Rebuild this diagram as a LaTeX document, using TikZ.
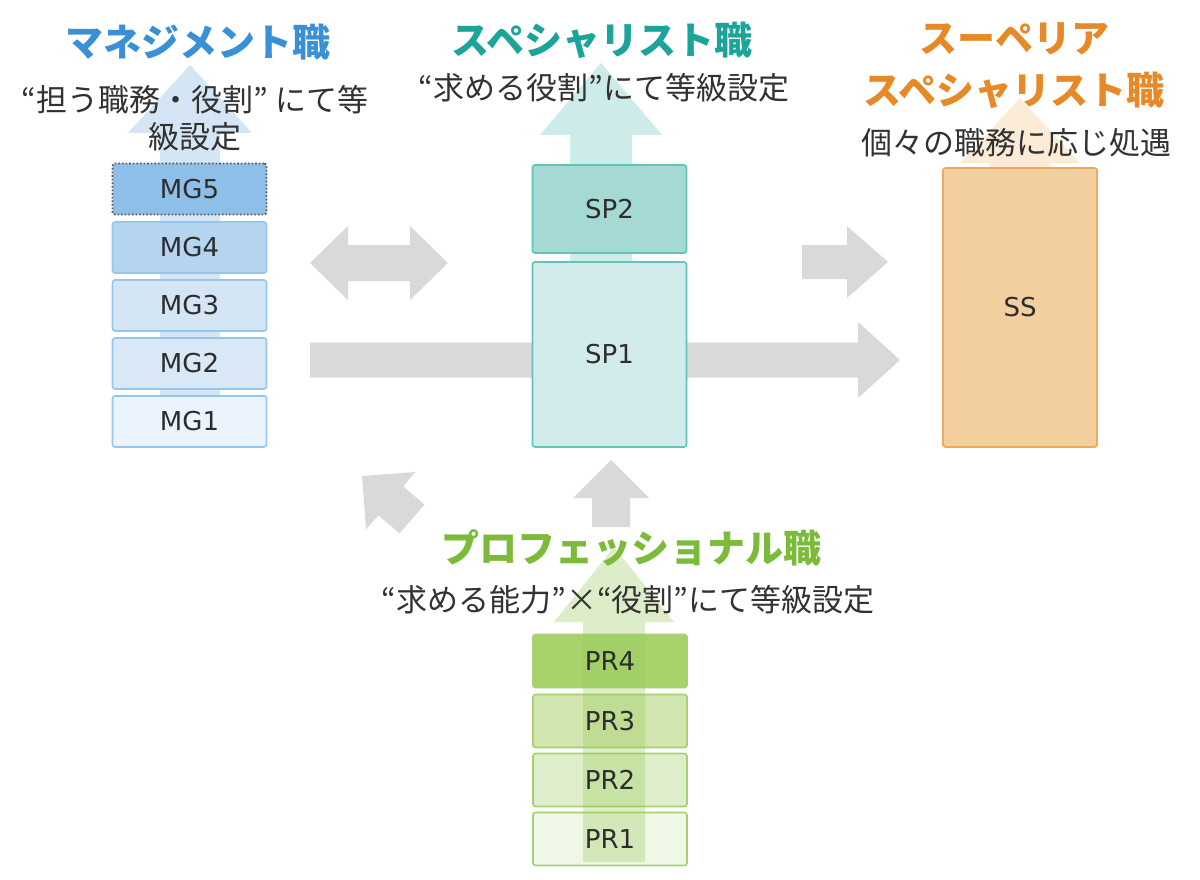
\documentclass[tikz,border=0pt]{standalone}
\usepackage{fontspec}
\setmainfont{DejaVu Sans}
\newfontfamily\jp{Noto Sans CJK JP}
\usetikzlibrary{calc}
\definecolor{arrgray}{RGB}{217,217,217}
\definecolor{txt}{RGB}{45,45,45}
\definecolor{subtxt}{RGB}{50,50,50}
\definecolor{mgtitle}{RGB}{58,144,214}
\definecolor{sptitle}{RGB}{28,164,154}
\definecolor{sstitle}{RGB}{232,137,40}
\definecolor{prtitle}{RGB}{124,186,58}
\definecolor{mgarrow}{RGB}{212,230,245}
\definecolor{sparrow}{RGB}{205,235,233}
\definecolor{ssarrow}{RGB}{252,235,214}
\definecolor{prarrow}{RGB}{155,203,92}
\definecolor{mgline}{RGB}{150,198,236}
\definecolor{mg5}{RGB}{142,191,232}
\definecolor{mg4}{RGB}{180,212,240}
\definecolor{mg3}{RGB}{212,230,245}
\definecolor{mg2}{RGB}{216,232,246}
\definecolor{mg1}{RGB}{235,244,252}
\definecolor{spline}{RGB}{98,195,186}
\definecolor{sp2}{RGB}{164,217,212}
\definecolor{sp1}{RGB}{210,236,235}
\definecolor{ssline}{RGB}{238,170,90}
\definecolor{ssfill}{RGB}{243,207,159}
\definecolor{prline}{RGB}{166,208,114}
\definecolor{pr4}{RGB}{168,211,107}
\definecolor{pr3}{RGB}{208,230,174}
\definecolor{pr2}{RGB}{222,238,202}
\definecolor{pr1}{RGB}{239,247,230}
\newcommand\blockarrow[6]{%
  \coordinate (ba-h) at ($(#3)!#6!(#2)$);
  \fill[#1] ($(#2)!#4!90:(#3)$) -- ($(ba-h)!#4!-90:(#2)$) -- ($(ba-h)!#5!-90:(#2)$) -- (#3)
    -- ($(ba-h)!#5!90:(#2)$) -- ($(ba-h)!#4!90:(#2)$) -- ($(#2)!#4!-90:(#3)$) -- cycle;}
\tikzset{
  lbl/.style={text=txt, font=\fontsize{26}{26}\selectfont, inner sep=0pt},
  gbox/.style={draw, rounded corners=2.5pt, line width=1.6pt, lbl, minimum width=154pt},
  mgbox/.style={gbox, draw=mgline, minimum height=51pt},
  spbox/.style={gbox, draw=spline},
  ssbox/.style={gbox, draw=ssline},
  prbox/.style={gbox, draw=prline, minimum height=53pt},
  title/.style={font=\jp\bfseries\fontsize{38}{38}\selectfont, inner sep=0pt},
  subtitle/.style={font=\jp\fontsize{31}{31}\selectfont, text=subtxt, inner sep=0pt, align=center},
}
\begin{document}
\begin{tikzpicture}[x=1pt,y=-1pt]
\fill[white] (0,0) rectangle (1200,880);
\useasboundingbox (0,0) rectangle (1200,880);

% coloured background arrows
\coordinate (mg-s) at (190,440); \coordinate (mg-e) at (190,65);
\coordinate (sp-s) at (601,440); \coordinate (sp-e) at (601,63);
\coordinate (ss-s) at (1020,300); \coordinate (ss-e) at (1020,98);
\blockarrow{mgarrow}{mg-s}{mg-e}{30pt}{62pt}{68pt}
\blockarrow{sparrow}{sp-s}{sp-e}{31pt}{61pt}{72pt}
\blockarrow{ssarrow}{ss-s}{ss-e}{30pt}{60pt}{65pt}

% grey arrows
\coordinate (dbl-c) at (379,263); \coordinate (dbl-l) at (310,263); \coordinate (dbl-r) at (448,263);
\coordinate (long-s) at (310,360); \coordinate (long-e) at (900,360);
\coordinate (ur-s) at (802,262); \coordinate (ur-e) at (888,262);
\coordinate (dg-s) at (412,519); \coordinate (dg-e) at (362,476);
\coordinate (up-s) at (611,527); \coordinate (up-e) at (611,460);
\blockarrow{arrgray}{dbl-c}{dbl-l}{18pt}{37pt}{38pt}
\blockarrow{arrgray}{dbl-c}{dbl-r}{18pt}{37pt}{38pt}
\blockarrow{arrgray}{long-s}{long-e}{17.5pt}{38pt}{42pt}
\blockarrow{arrgray}{ur-s}{ur-e}{17pt}{36pt}{41pt}
\blockarrow{arrgray}{dg-s}{dg-e}{19pt}{38pt}{38pt}
\blockarrow{arrgray}{up-s}{up-e}{19pt}{38pt}{38pt}

% management boxes
\node[mgbox, fill=mg5, draw=black!65, dotted, line width=1.8pt] (mg5) at (189.5,189) {MG5};
\node[mgbox, fill=mg4] (mg4) at (189.5,247.5) {MG4};
\node[mgbox, fill=mg3] (mg3) at (189.5,305.5) {MG3};
\node[mgbox, fill=mg2] (mg2) at (189.5,363.5) {MG2};
\node[mgbox, fill=mg1] (mg1) at (189.5,421.5) {MG1};

% specialist boxes
\node[spbox, fill=sp2, minimum height=88pt] (sp2) at (609.5,209) {SP2};
\node[spbox, fill=sp1, minimum height=185pt] (sp1) at (609.5,354.5) {SP1};

% superior specialist
\node[ssbox, fill=ssfill, minimum height=279pt] (ss) at (1020,307.5) {SS};

% professional boxes (labels set after the translucent arrow)
\node[prbox, fill=pr4] (pr4) at (610,661) {};
\node[prbox, fill=pr3] (pr3) at (610,721) {};
\node[prbox, fill=pr2] (pr2) at (610,780) {};
\node[prbox, fill=pr1] (pr1) at (610,839) {};
\coordinate (pr-s) at (614,862); \coordinate (pr-e) at (614,547);
\blockarrow{prarrow, fill opacity=0.33}{pr-s}{pr-e}{31pt}{60pt}{75pt}
\node[lbl] (pr4l) at (pr4) {PR4};
\node[lbl] (pr3l) at (pr3) {PR3};
\node[lbl] (pr2l) at (pr2) {PR2};
\node[lbl] (pr1l) at (pr1) {PR1};

% titles
\node[title, text=mgtitle] (mgt) at (198,42) {マネジメント職};
\node[subtitle] (mgs) at (195,118) {“担う職務・役割” にて等\\[6pt]級設定};
\node[title, text=sptitle] (spt) at (602,40) {スペシャリスト職};
\node[subtitle] (sps) at (604,88) {“求める役割”にて等級設定};
\node[title, text=sstitle, align=center] (sst) at (1014,66) {スーペリア\\[14pt]スペシャリスト職};
\node[subtitle] (sss) at (1016,143) {個々の職務に応じ処遇};
\node[title, text=prtitle] (prt) at (631,548) {プロフェッショナル職};
\node[subtitle] (prs) at (628,600) {“求める能力”×“役割”にて等級設定};
\end{tikzpicture}
\end{document}
